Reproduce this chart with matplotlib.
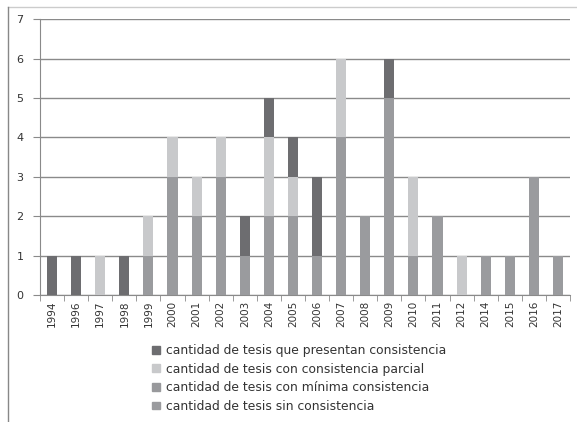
import matplotlib
matplotlib.use("Agg")
import matplotlib.pyplot as plt
from matplotlib.lines import Line2D
from matplotlib.patches import Patch
import numpy as np

years = ["1994", "1996", "1997", "1998", "1999", "2000", "2001", "2002", "2003", "2004", "2005",
         "2006", "2007", "2008", "2009", "2010", "2011", "2012", "2014", "2015", "2016", "2017"]
sin_consistencia = [0, 0, 0, 0, 1, 3, 2, 3, 1, 2, 2, 1, 4, 2, 5, 1, 2, 0, 1, 1, 3, 1]
minima_consistencia = [0] * 22
consistencia_parcial = [0, 0, 1, 0, 1, 1, 1, 1, 0, 2, 1, 0, 2, 0, 0, 2, 0, 1, 0, 0, 0, 0]
presentan_consistencia = [1, 1, 0, 1, 0, 0, 0, 0, 1, 1, 1, 2, 0, 0, 1, 0, 0, 0, 0, 0, 0, 0]

labels = ["cantidad de tesis que presentan consistencia",
          "cantidad de tesis con consistencia parcial",
          "cantidad de tesis con mínima consistencia",
          "cantidad de tesis sin consistencia"]
c_dark = "#6d6d70"
c_light = "#c8c9cb"
c_med = "#98999c"
c_med2 = "#9a9b9e"

fig = plt.figure(figsize=(5.77, 4.22), dpi=100)
ax = fig.add_axes([40/577, 1-295/422, 530/577, (295-19.3)/422])

x = np.arange(len(years))
w = 0.42
b = np.zeros(len(years))
ax.bar(x, sin_consistencia, w, bottom=b, color=c_med2, zorder=3)
b += np.array(sin_consistencia)
ax.bar(x, minima_consistencia, w, bottom=b, color=c_med, zorder=3)
b += np.array(minima_consistencia)
ax.bar(x, consistencia_parcial, w, bottom=b, color=c_light, zorder=3)
b += np.array(consistencia_parcial)
ax.bar(x, presentan_consistencia, w, bottom=b, color=c_dark, zorder=3)

ax.set_xlim(-0.5, len(years) - 0.5)
ax.set_ylim(0, 7)
ax.set_yticks(range(8))
ax.yaxis.grid(True, color="#8a8a8a", linewidth=1, zorder=0)
ax.set_axisbelow(True)
for s in ["top", "right"]:
    ax.spines[s].set_visible(False)
ax.spines["left"].set_color("#8a8a8a")
ax.spines["bottom"].set_color("#8a8a8a")
ax.tick_params(axis="y", length=5, color="#8a8a8a", labelsize=8, pad=7, labelcolor="#333333")
ax.set_xticks(x)
ax.set_xticklabels(years, rotation=90, fontsize=7.5, color="#333333")
ax.set_xticks(np.arange(-0.5, len(years), 1), minor=True)
ax.tick_params(axis="x", which="major", length=0, pad=4)
ax.tick_params(axis="x", which="minor", length=4, color="#8a8a8a")

handles = [Patch(color=c_dark), Patch(color=c_light), Patch(color=c_med), Patch(color=c_med2)]
fig.legend(handles, labels, loc="upper left", bbox_to_anchor=(141/577, 1-333/422),
           frameon=False, fontsize=8.9, handlelength=0.6, handleheight=0.6,
           handletextpad=0.5, labelspacing=0.45, labelcolor="#333333")

fig.add_artist(Line2D([8/577, 1], [1-7/422, 1-7/422], color="#cccccc", linewidth=1))
fig.add_artist(Line2D([8/577, 8/577], [0, 1-7/422], color="#888888", linewidth=1))

fig.savefig("out.png", dpi=100)
